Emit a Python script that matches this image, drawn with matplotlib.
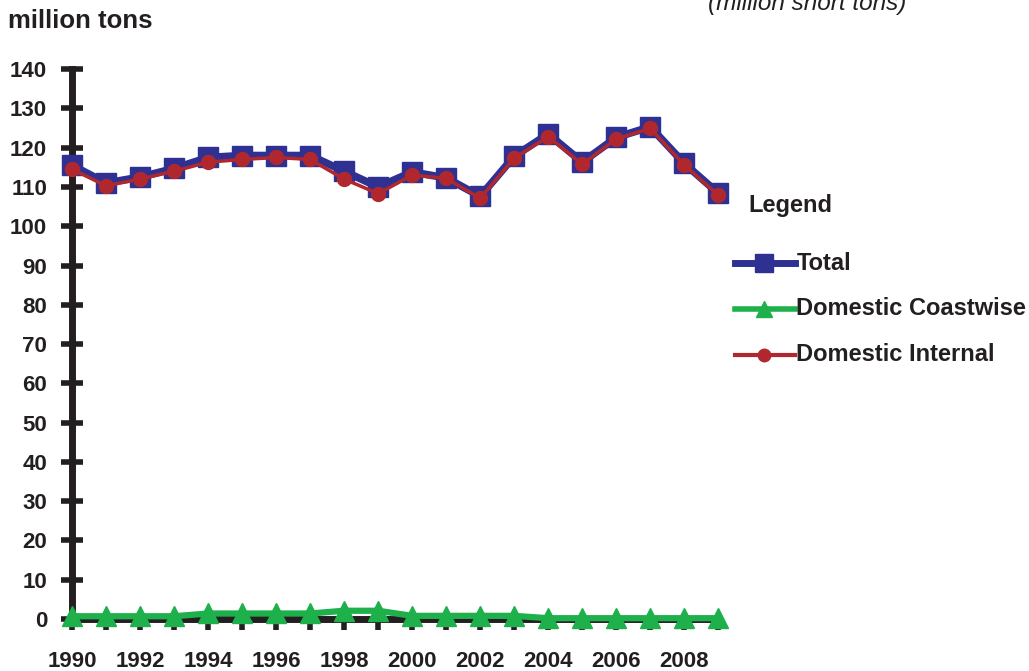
import matplotlib.pyplot as plt
from matplotlib.lines import Line2D

plt.rcParams['font.family'] = ['Liberation Sans', 'DejaVu Sans']

years = list(range(1990, 2010))
total = [115.5, 111, 112.5, 114.7, 117.5, 118, 118, 118, 114, 110,
         113.8, 112.3, 107.6, 117.8, 123.5, 116.3, 122.6, 125.3, 116, 108.4]
coastwise = [0.7, 0.7, 0.7, 0.7, 1.4, 1.4, 1.4, 1.4, 2.1, 2.1,
             0.8, 0.8, 0.8, 0.8, 0.2, 0.2, 0.2, 0.2, 0.2, 0.2]
internal = [114.5, 110.3, 112, 114, 116.3, 117, 117.5, 117, 112, 108.3,
            113, 112.2, 107.1, 117.3, 122.8, 115.8, 122.2, 124.9, 115.6, 107.9]
yticks = list(range(0, 150, 10))
xlabels = [str(y) if y % 2 == 0 else '' for y in years]

blue = '#2E3192'
green = '#1DB04B'
red = '#B0282E'
ink = '#231F20'

fig = plt.figure(figsize=(10.29, 6.71), dpi=100)
ax = fig.add_axes([0.070, 0.0775, 0.628, 0.8195])

ax.plot(years, total, color=blue, lw=5.5, marker='s', ms=15, clip_on=False, zorder=3)
ax.plot(years, internal, color=red, lw=2.5, marker='o', ms=10, clip_on=False, zorder=4)
ax.plot(years, coastwise, color=green, lw=4.5, marker='^', ms=14, clip_on=False, zorder=5)

ax.set_xlim(1990, 2009)
ax.set_ylim(0, 140)
for s in ['top', 'right']:
    ax.spines[s].set_visible(False)
for s in ['left', 'bottom']:
    ax.spines[s].set_linewidth(5)
    ax.spines[s].set_color(ink)

ax.set_yticks(yticks)
ax.set_xticks(years)
ax.set_xticklabels(xlabels)
ax.tick_params(axis='y', direction='inout', length=16, width=4, color=ink,
               labelsize=16, pad=10)
ax.tick_params(axis='x', direction='out', length=8, width=4, color=ink,
               labelsize=16, pad=15)
for lab in ax.get_xticklabels() + ax.get_yticklabels():
    lab.set_fontweight('bold')
    lab.set_color(ink)

fig.text(0.008, 0.968, 'million tons', fontsize=18.5, fontweight='bold',
         color=ink, va='center', ha='left')
fig.text(0.688, 0.985, '(million short tons)', fontsize=17.5, style='italic',
         color=ink, va='baseline', ha='left')

# legend drawn by hand to get the large gaps between entries
fig.text(0.727, 0.694, 'Legend', fontsize=17, fontweight='bold', color=ink,
         va='center', ha='left')
entries = [('Total', blue, 's', 5, 13), ('Domestic Coastwise', green, '^', 4, 12),
           ('Domestic Internal', red, 'o', 3, 9)]
for i, (name, col, mk, lw, ms) in enumerate(entries):
    yy = 0.608 - i * 0.0685
    fig.add_artist(Line2D([0.714, 0.773], [yy, yy], color=col, lw=lw,
                          transform=fig.transFigure))
    fig.add_artist(Line2D([0.742], [yy], color=col, marker=mk, ms=ms,
                          transform=fig.transFigure))
    fig.text(0.774, yy, name, fontsize=17, fontweight='bold', color=ink,
             va='center', ha='left')

fig.savefig('out.png', dpi=100)
